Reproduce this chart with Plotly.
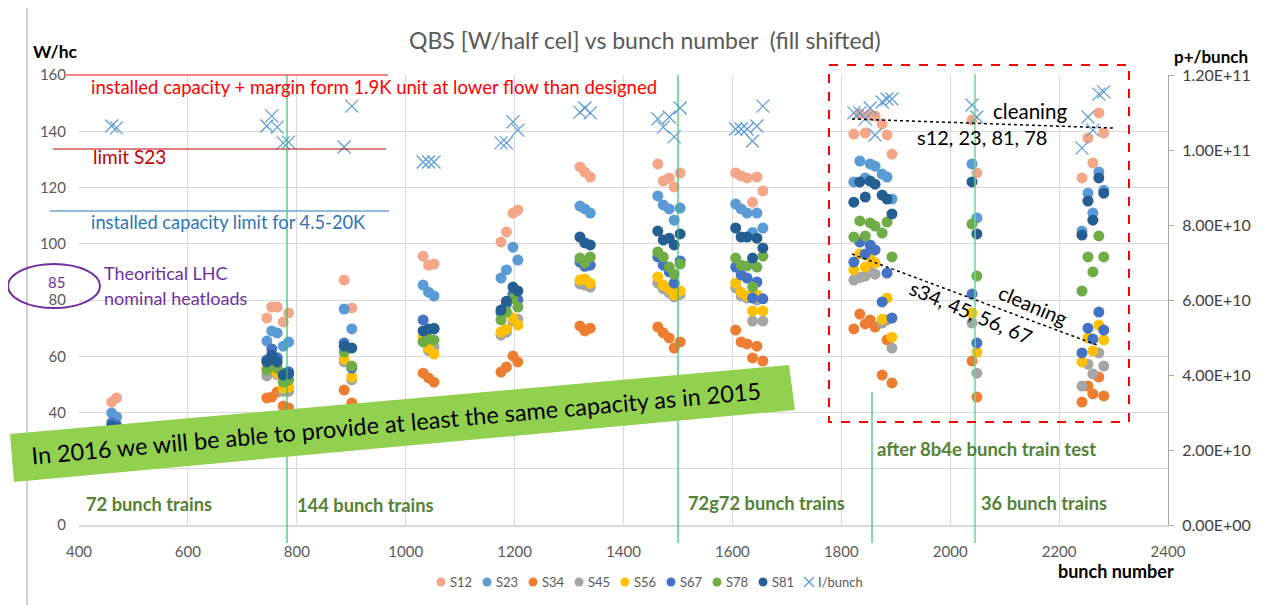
import plotly.graph_objects as go

# ---------------- data ----------------
bunches = [460, 469,
           745, 754, 764, 775, 785,
           887, 901,
           1032, 1042, 1052,
           1175, 1185, 1197, 1206,
           1320, 1329, 1339,
           1463, 1473, 1484, 1493, 1504,
           1606, 1616, 1627, 1637, 1645, 1656,
           1823, 1834, 1844, 1853, 1862, 1875, 1884, 1893,
           2040, 2049,
           2242, 2253, 2262, 2273, 2282]

S12 = [43.7, 45.2,
       73.6, 77.5, 77.5, 72.2, 75.4,
       87.1, 77.2,
       95.6, 92.4, 92.8,
       100.6, 104.2, 110.9, 112.0,
       127.3, 125.5, 123.7,
       128.4, 122.3, 123.4, 120.2, 125.2,
       125.2, 124.1, 123.4, 114.8, 123.7, 118.8,
       139.0, 146.1, 139.4, 145.8, 145.4, 142.6, 138.7, 131.9,
       144.0, 125.2,
       123.4, 137.6, 128.7, 146.5, 139.4]

S23 = [39.8, 38.4,
       65.4, 69.0, 68.3, 63.6, 65.1,
       76.8, 69.7,
       85.3, 82.8, 81.4,
       87.8, 90.7, 98.8, 94.2,
       113.4, 112.4, 110.9,
       117.0, 113.8, 112.4, 108.4, 112.7,
       114.1, 112.4, 110.9, 104.0, 110.9, 105.6,
       122.0, 129.4, 123.4, 128.4, 127.6, 124.8, 123.7, 115.9,
       128.4, 109.2,
       104.5, 118.0, 110.9, 125.5, 119.0]

S34 = [25.0, 24.0,
       45.2, 45.5, 47.3, 42.3, 41.6,
       48.0, 43.4,
       54.0, 52.3, 50.8,
       54.4, 56.2, 60.1, 58.0,
       70.8, 69.0, 70.0,
       70.4, 68.3, 66.5, 62.9, 65.1,
       69.3, 65.1, 64.4, 59.4, 63.6, 58.3,
       69.7, 75.0, 71.5, 72.9, 70.4, 53.3, 65.8, 50.5,
       58.3, 45.5,
       43.7, 49.4, 46.6, 52.6, 45.9]

S45 = [32.0, 31.5,
       53.0, 55.0, 53.5, 47.5, 47.5,
       58.0, 51.6,
       65.5, 62.0, 63.3,
       67.5, 68.5, 72.5, 73.2,
       85.7, 85.3, 84.6,
       86.0, 84.0, 82.5, 81.1, 82.0,
       84.3, 81.4, 80.7, 72.5, 80.0, 72.5,
       87.1, 88.0, 88.5, 91.7, 89.2, 71.8, 72.9, 62.9,
       71.8, 54.0,
       49.4, 57.2, 53.7, 61.2, 56.5]

S56 = [31.5, 31.0,
       55.5, 56.5, 54.0, 48.7, 49.1,
       59.0, 52.6,
       66.8, 62.9, 60.8,
       68.6, 69.7, 73.6, 71.1,
       87.1, 87.5, 86.0,
       88.2, 85.3, 83.9, 81.8, 83.2,
       86.0, 82.8, 81.4, 76.1, 81.8, 76.1,
       90.7, 96.4, 91.7, 95.3, 93.2, 73.2, 80.7, 66.8,
       75.4, 61.5,
       58.0, 66.5, 61.9, 71.1, 65.8]

S67 = [36.3, 35.5,
       58.7, 62.6, 59.5, 54.0, 54.5,
       64.7, 55.8,
       72.9, 69.5, 70.0,
       75.5, 78.5, 82.0, 80.0,
       93.5, 92.0, 92.4,
       95.3, 92.4, 90.0, 86.0, 93.9,
       91.7, 88.9, 87.8, 80.7, 86.4, 80.4,
       93.5, 100.6, 96.4, 99.6, 97.8, 79.3, 89.6, 73.6,
       82.1, 64.7,
       61.2, 70.0, 66.1, 75.7, 69.3]

S78 = [33.0, 32.5,
       55.1, 57.0, 55.8, 50.8, 51.6,
       61.5, 56.5,
       65.1, 66.1, 65.8,
       72.9, 75.7, 80.5, 77.5,
       94.9, 93.2, 95.3,
       97.1, 95.3, 91.7, 89.2, 92.8,
       94.9, 92.4, 92.1, 84.6, 91.7, 95.6,
       102.4, 108.1, 102.8, 107.4, 106.3, 103.8, 107.7, 95.3,
       107.0, 88.5,
       83.2, 95.3, 90.0, 102.8, 95.3]

S81 = [35.0, 34.5,
       58.0, 60.4, 58.0, 53.3, 53.7,
       63.6, 62.9,
       69.0, 69.7, 69.7,
       76.4, 79.6, 84.6, 83.2,
       102.4, 100.3, 99.6,
       104.5, 101.3, 102.0, 99.6, 103.5,
       105.6, 102.4, 102.4, 94.9, 102.0, 98.5,
       114.8, 122.0, 116.6, 122.3, 121.2, 117.3, 115.9, 110.6,
       122.0, 103.5,
       103.1, 115.2, 108.4, 123.4, 118.0]

I_bunch = [1.064e11, 1.059e11,
           1.064e11, 1.091e11, 1.061e11, 1.019e11, 1.021e11,
           1.008e11, 1.117e11,
           9.68e10, 9.68e10, 9.68e10,
           1.019e11, 1.019e11, 1.075e11, 1.053e11,
           1.101e11, 1.112e11, 1.099e11,
           1.083e11, 1.061e11, 1.088e11, 1.035e11, 1.112e11,
           1.056e11, 1.056e11, 1.056e11, 1.024e11, 1.064e11, 1.117e11,
           1.099e11, 1.099e11, 1.083e11, 1.112e11, 1.040e11, 1.128e11, 1.136e11, 1.136e11,
           1.120e11, 1.088e11,
           1.005e11, 1.088e11, 1.053e11, 1.149e11, 1.155e11]

series = {"S12": S12, "S23": S23, "S34": S34, "S45": S45,
          "S56": S56, "S67": S67, "S78": S78, "S81": S81}

left_ticks = [0, 20, 40, 60, 80, 100, 120, 140, 160]
x_ticks = [400, 600, 800, 1000, 1200, 1400, 1600, 1800, 2000, 2200, 2400]
right_tickvals = [0, 2e10, 4e10, 6e10, 8e10, 1e11, 1.2e11]
right_ticktext = ["0.00E+00", "2.00E+10", "4.00E+10", "6.00E+10",
                  "8.00E+10", "1.00E+11", "1.20E+11"]

# ---------------- style ----------------
colors = {"S12": "#F4A689", "S23": "#5B9BD5", "S34": "#ED7D31", "S45": "#A5A5A5",
          "S56": "#FFC000", "S67": "#4472C4", "S78": "#70AD47", "S81": "#255E91"}
IB_COLOR = "#5B9BD5"
FONT = "Lato"
OFF = 8                      # page body margin of the html page
W, H = 1265 - OFF, 605 - OFF
L, R, T, B = 79, 1168, 75, 525   # plot area in screenshot pixels


def px(x):
    return (x - L) / (R - L)


def py(y):
    return (B - y) / (B - T)


fig = go.Figure()
for name, vals in series.items():
    fig.add_trace(go.Scatter(
        x=bunches, y=vals, mode="markers", name=name,
        marker=dict(symbol="circle", size=11, color=colors[name], line=dict(width=0)),
    ))
fig.add_trace(go.Scatter(
    x=bunches, y=I_bunch, mode="markers", name="I/bunch", yaxis="y2",
    marker=dict(symbol="x-thin", size=13, color=IB_COLOR,
                line=dict(width=1.2, color=IB_COLOR)),
))

shapes = []


def seg(x0, y0, x1, y1, color, width=1, dash="solid"):
    shapes.append(dict(type="line", xref="paper", yref="paper",
                       x0=px(x0), x1=px(x1), y0=py(y0), y1=py(y1),
                       line=dict(color=color, width=width, dash=dash), layer="above"))


# chart frame (left / top)
seg(27, 7, 27, 605, "#BFBFBF", 1.5)
seg(27, 7, 1265, 7, "#D0D0D0", 1.5)

# reference lines
seg(65, 75, 388, 75, "#FF8080", 2)
seg(53, 149, 386, 149, "#C00000", 1)
seg(50, 211, 389, 211, "#6FA3D6", 1.5)

# green vertical lines
seg(287, 75, 287, 543, "#33C06A", 1.2)
seg(678, 75, 678, 543, "#33C06A", 1.2)
seg(872, 392, 872, 543, "#33C06A", 1.2)
seg(975, 74, 975, 543, "#6FD49A", 1.5)

# dotted trend lines
seg(852, 119, 1113, 128, "#000000", 1.5, "dot")
seg(852, 254, 1097, 345, "#000000", 1.5, "dot")

# red dashed box
shapes.append(dict(type="rect", xref="paper", yref="paper",
                   x0=px(829), x1=px(1129), y0=py(65), y1=py(422),
                   line=dict(color="#FF0000", width=2, dash="dash"), layer="above"))

# purple ellipse
shapes.append(dict(type="circle", xref="paper", yref="paper",
                   x0=px(8), x1=px(100), y0=py(264), y1=py(308),
                   line=dict(color="#7030A0", width=2), layer="above"))

# green banner
corners = [(10, 434), (789, 365), (795, 410), (14, 482)]
path = "M " + " L ".join(f"{px(a):.5f},{py(b):.5f}" for a, b in corners) + " Z"
shapes.append(dict(type="path", xref="paper", yref="paper", path=path,
                   fillcolor="#92D050", line=dict(width=0), layer="above"))

ann = []


def text(t, x, y, size, color, bold=False, anchor="left", angle=0, family=FONT):
    ann.append(dict(text=f"<b>{t}</b>" if bold else t, xref="paper", yref="paper",
                    x=px(x), y=py(y), xanchor=anchor, yanchor="middle",
                    showarrow=False, textangle=angle,
                    font=dict(family=family, size=size, color=color)))


# compact legend (Excel style)
leg_names = list(series.keys()) + ["I/bunch"]
leg_y = 582
for i, name in enumerate(leg_names):
    cx = 441 + 46 * i
    if name in colors:
        shapes.append(dict(type="circle", xref="paper", yref="paper",
                           x0=px(cx - 4.5), x1=px(cx + 4.5), y0=py(leg_y - 4.5), y1=py(leg_y + 4.5),
                           fillcolor=colors[name], line=dict(width=0), layer="above"))
    else:
        seg(cx - 5, leg_y - 5, cx + 5, leg_y + 5, IB_COLOR, 1.2)
        seg(cx - 5, leg_y + 5, cx + 5, leg_y - 5, IB_COLOR, 1.2)
    text(name, cx + 7, leg_y, 13, "#595959")

text("QBS [W/half cel] vs bunch number  (fill shifted)", 645, 40, 23, "#595959", anchor="center")
text("W/hc", 31, 51, 17.5, "#000000", bold=True)
text("p+/bunch", 1172, 56, 17, "#000000", bold=True)
text("bunch number", 1056, 571, 18, "#000000", bold=True)

text("installed capacity + margin form 1.9K unit at lower flow than designed", 89, 87, 18.5, "#FF0000")
text("limit S23", 91, 157, 19, "#C00000")
text("installed capacity limit for 4.5-20K", 89, 222, 18.3, "#2E75B6")
text("85", 56, 282, 15, "#7030A0", anchor="center")
text("Theoritical LHC", 102, 273, 18, "#7030A0")
text("nominal heatloads", 102, 298, 18, "#7030A0")

text("cleaning", 1030, 111, 20.5, "#000000", anchor="center")
text("s12, 23, 81, 78", 982, 137, 20, "#000000", anchor="center")
text("cleaning", 1033, 305, 20, "#000000", anchor="center", angle=23)
text("s34, 45, 56, 67", 971, 312, 20, "#000000", anchor="center", angle=23)

text("In 2016 we will be able to provide at least the same capacity as in 2015",
     396, 423, 23.5, "#000000", anchor="center", angle=-5.1)

text("72 bunch trains", 84, 504, 18.3, "#548235", bold=True)
text("144 bunch trains", 295, 505, 18.3, "#548235", bold=True)
text("72g72 bunch trains", 686, 503, 18.3, "#548235", bold=True)
text("after 8b4e bunch train test", 875, 449, 18.5, "#548235", bold=True)
text("36 bunch trains", 979, 503, 18.3, "#548235", bold=True)

fig.update_layout(
    width=W, height=H, autosize=False,
    margin=dict(l=L - OFF, r=W - (R - OFF), t=T - OFF, b=H - (B - OFF), pad=0),
    paper_bgcolor="white", plot_bgcolor="white",
    font=dict(family=FONT, color="#595959"),
    showlegend=False,
    xaxis=dict(range=[400, 2400], tickvals=x_ticks, showgrid=True, gridcolor="#D9D9D9",
               gridwidth=1, showline=True, linecolor="#D9D9D9", linewidth=1.5,
               zeroline=False, ticks="outside", ticklen=12, tickcolor="rgba(0,0,0,0)",
               tickfont=dict(size=15, color="#595959")),
    yaxis=dict(range=[0, 160], tickvals=left_ticks, showgrid=True, gridcolor="#D9D9D9",
               gridwidth=1, zeroline=False, showline=False, ticks="outside", ticklen=9,
               tickcolor="rgba(0,0,0,0)", tickfont=dict(size=15, color="#595959")),
    yaxis2=dict(range=[0, 1.2e11], overlaying="y", side="right", tickvals=right_tickvals,
                ticktext=right_ticktext, showgrid=False, zeroline=False, showline=True,
                linecolor="#A6A6A6", linewidth=1, ticks="outside", ticklen=5,
                tickcolor="#A6A6A6", ticklabelstandoff=5,
                tickfont=dict(size=16, color="#404040")),
    shapes=shapes, annotations=ann,
)

fig.write_html("out.html")
